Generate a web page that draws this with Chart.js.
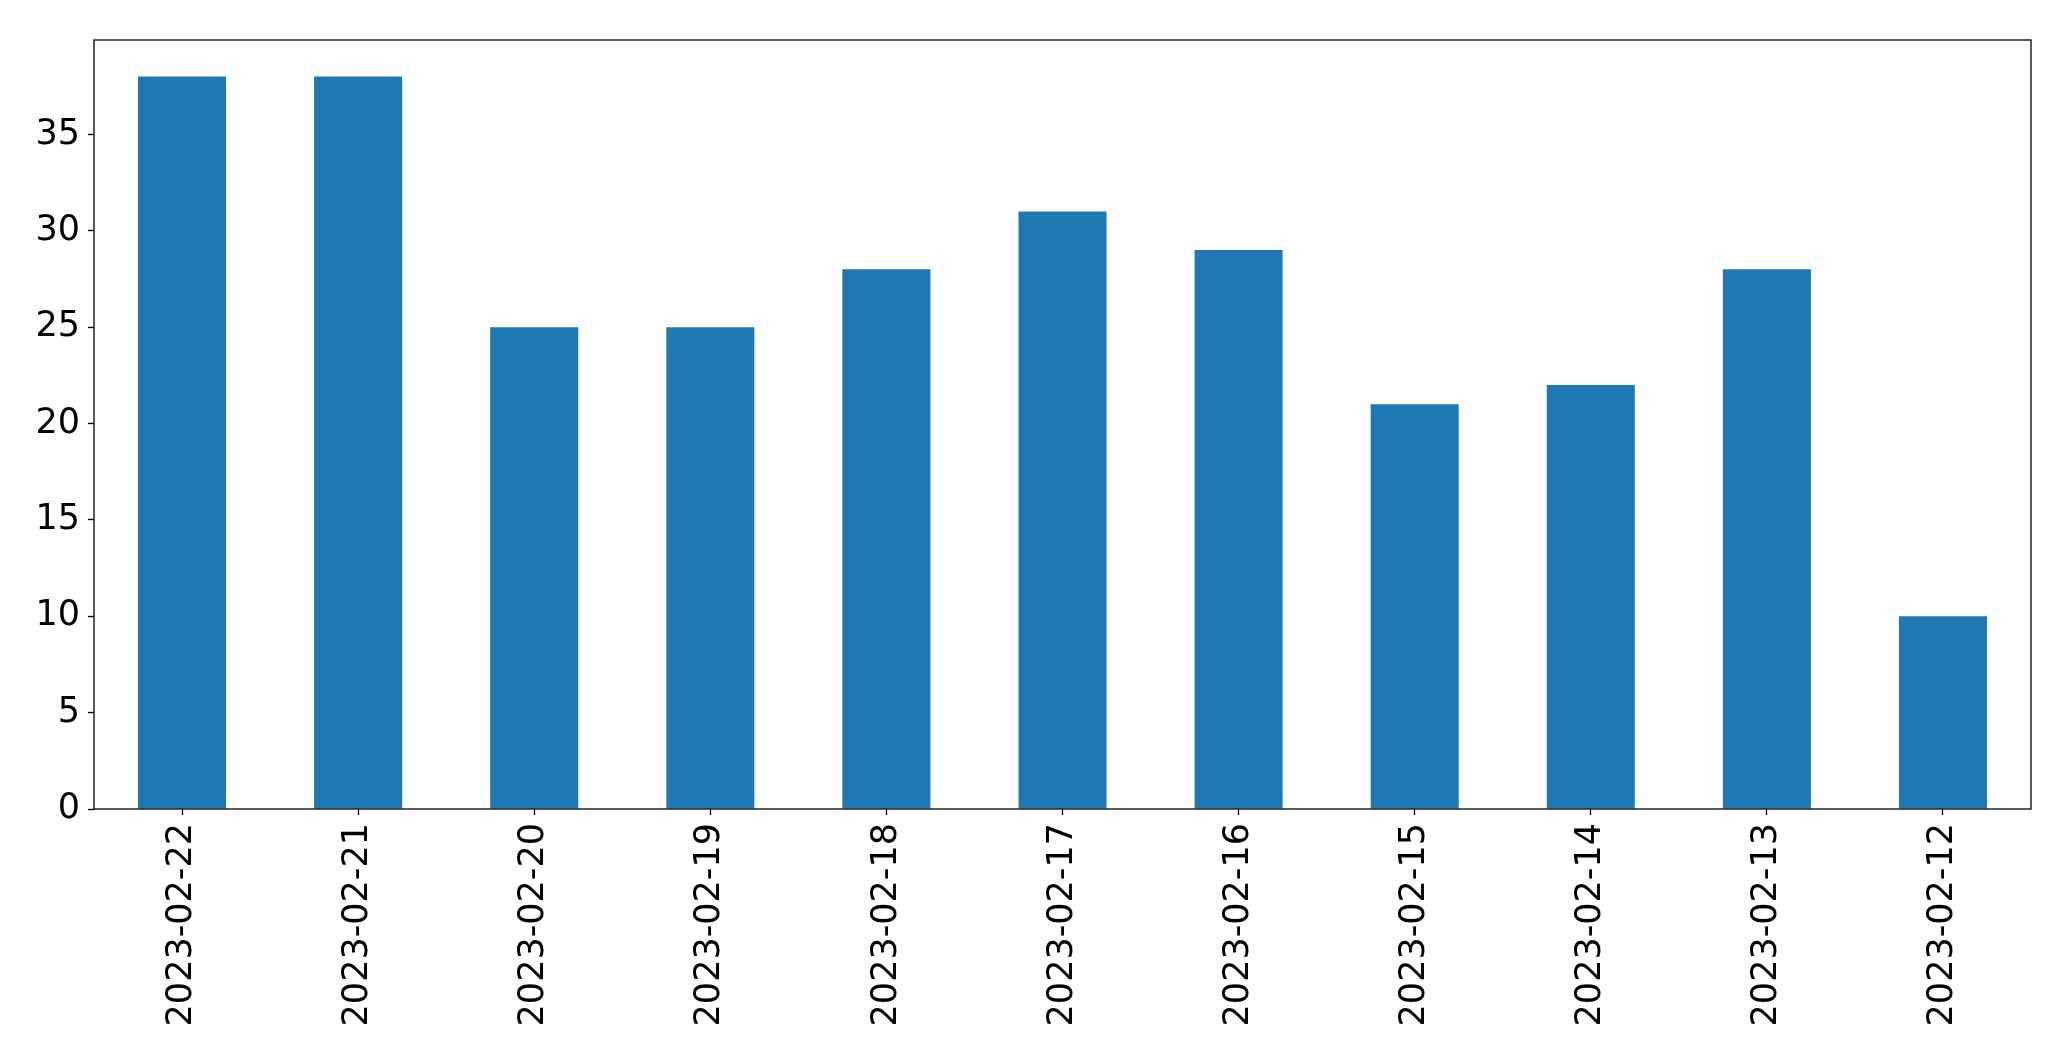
<!DOCTYPE html>
<html>
<head>
<meta charset="utf-8">
<script src="https://cdn.jsdelivr.net/npm/chart.js@4"></script>
<style>
    html, body { margin: 0; padding: 0; background: #fff; }
    #wrap { width: 2071px; height: 1061px; }
</style>
</head>
<body>
<div id="wrap"><canvas id="bars"></canvas></div>
<script>
const dates = ['2023-02-22', '2023-02-21', '2023-02-20', '2023-02-19', '2023-02-18', '2023-02-17',
    '2023-02-16', '2023-02-15', '2023-02-14', '2023-02-13', '2023-02-12'];
const counts = [38, 38, 25, 25, 28, 31, 29, 21, 22, 28, 10];
const yTicks = [0, 5, 10, 15, 20, 25, 30, 35];

Chart.defaults.font.family = 'DejaVu Sans';
Chart.defaults.color = '#000';

// black frame round the plot area, like a matplotlib axes box
const frame = {
    id: 'frame',
    afterDraw(chart) {
        const a = chart.chartArea;
        const ctx = chart.ctx;
        ctx.save();
        ctx.strokeStyle = '#000';
        ctx.lineWidth = 1.3;
        ctx.strokeRect(a.left, a.top, a.right - a.left, a.bottom - a.top);
        ctx.restore();
    }
};

const ctx = document.getElementById('bars');
new Chart(ctx, {
    type: 'bar',
    data: {
        labels: dates,
        datasets: [{
            data: counts,
            backgroundColor: '#1f77b4',
            barPercentage: 0.5,
            categoryPercentage: 1.0
        }]
    },
    options: {
        responsive: true,
        maintainAspectRatio: false,
        animation: false,
        layout: { padding: { left: 0, right: 40, top: 40, bottom: 0 } },
        plugins: { legend: { display: false }, tooltip: { enabled: false } },
        scales: {
            x: {
                grid: { offset: false, drawOnChartArea: false, tickLength: 6, color: '#000', tickWidth: 1.3 },
                border: { display: false },
                ticks: { font: { size: 35 }, minRotation: 90, maxRotation: 90, padding: 8, autoSkip: false },
                afterFit(axis) { axis.height = 252; }
            },
            y: {
                min: 0,
                max: 39.9,
                grid: { drawOnChartArea: false, tickLength: 6, color: '#000', tickWidth: 1.3 },
                border: { display: false },
                ticks: { font: { size: 35 }, padding: 8 },
                afterBuildTicks(axis) { axis.ticks = yTicks.map(v => ({ value: v })); },
                afterFit(axis) { axis.width = 94; }
            }
        }
    },
    plugins: [frame]
});
</script>
</body>
</html>
